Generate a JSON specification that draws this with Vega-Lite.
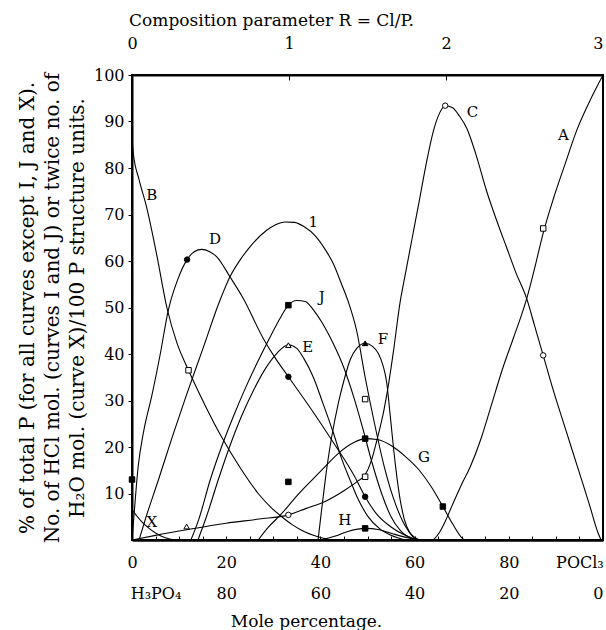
{
  "$schema": "https://vega.github.io/schema/vega-lite/v6.json",
  "width": 471,
  "height": 465,
  "autosize": {"type": "none"},
  "padding": {"left": 132, "top": 75, "right": 3, "bottom": 90},
  "background": "white",
  "config": {
    "font": "DejaVu Serif",
    "view": {"stroke": "black", "strokeWidth": 2},
    "axis": {
      "domainColor": "black", "domainWidth": 2, "tickColor": "black", "tickWidth": 1,
      "labelColor": "black", "titleColor": "black",
      "labelFont": "DejaVu Serif", "titleFont": "DejaVu Serif",
      "labelFontSize": 16, "titleFontSize": 17, "titleFontWeight": "normal",
      "grid": false, "labelFlush": false, "labelOverlap": false, "labelBound": false
    }
  },
  "datasets": {
    "curves": [
      {"series": "A", "x": 64, "y": 0}, {"series": "A", "x": 65.2, "y": 1.5}, {"series": "A", "x": 66.5, "y": 4}, {"series": "A", "x": 68, "y": 7.5}, {"series": "A", "x": 70, "y": 12}, {"series": "A", "x": 71.8, "y": 15.7}, {"series": "A", "x": 74, "y": 21.5}, {"series": "A", "x": 76, "y": 28}, {"series": "A", "x": 78.8, "y": 37.2}, {"series": "A", "x": 81, "y": 43.5}, {"series": "A", "x": 83.8, "y": 51.9}, {"series": "A", "x": 85.5, "y": 58.5}, {"series": "A", "x": 87.3, "y": 66}, {"series": "A", "x": 89.5, "y": 73.5}, {"series": "A", "x": 92, "y": 81}, {"series": "A", "x": 94.5, "y": 88.3}, {"series": "A", "x": 97, "y": 94}, {"series": "A", "x": 100, "y": 100},
      {"series": "B", "x": 0, "y": 86}, {"series": "B", "x": 0.3, "y": 83}, {"series": "B", "x": 1.5, "y": 77.5}, {"series": "B", "x": 3.1, "y": 71.6}, {"series": "B", "x": 5.2, "y": 61.6}, {"series": "B", "x": 7.4, "y": 50}, {"series": "B", "x": 9.5, "y": 42.5}, {"series": "B", "x": 12, "y": 36.5}, {"series": "B", "x": 15.5, "y": 29}, {"series": "B", "x": 19, "y": 22.2}, {"series": "B", "x": 22.8, "y": 15.8}, {"series": "B", "x": 26.8, "y": 10}, {"series": "B", "x": 29.5, "y": 7}, {"series": "B", "x": 31.8, "y": 5}, {"series": "B", "x": 34, "y": 3.3}, {"series": "B", "x": 36, "y": 2.1}, {"series": "B", "x": 38.5, "y": 1}, {"series": "B", "x": 41, "y": 0.3}, {"series": "B", "x": 42, "y": 0},
      {"series": "C", "x": 0, "y": 0}, {"series": "C", "x": 5, "y": 1}, {"series": "C", "x": 11.6, "y": 2.2}, {"series": "C", "x": 20, "y": 3.6}, {"series": "C", "x": 27, "y": 4.5}, {"series": "C", "x": 33.2, "y": 5.4}, {"series": "C", "x": 37, "y": 6.8}, {"series": "C", "x": 41, "y": 8.3}, {"series": "C", "x": 45, "y": 10.6}, {"series": "C", "x": 48, "y": 12.7}, {"series": "C", "x": 49.5, "y": 14}, {"series": "C", "x": 50.8, "y": 17}, {"series": "C", "x": 52, "y": 21.5}, {"series": "C", "x": 53.5, "y": 28}, {"series": "C", "x": 54.5, "y": 33.7}, {"series": "C", "x": 55.5, "y": 40.5}, {"series": "C", "x": 56.9, "y": 51}, {"series": "C", "x": 58, "y": 57}, {"series": "C", "x": 59.5, "y": 65}, {"series": "C", "x": 61, "y": 73}, {"series": "C", "x": 62.6, "y": 81.6}, {"series": "C", "x": 64, "y": 88}, {"series": "C", "x": 65.3, "y": 91.8}, {"series": "C", "x": 66.5, "y": 93.4}, {"series": "C", "x": 68, "y": 93}, {"series": "C", "x": 69.5, "y": 91.2}, {"series": "C", "x": 71.1, "y": 88.5}, {"series": "C", "x": 73, "y": 83}, {"series": "C", "x": 75.3, "y": 75}, {"series": "C", "x": 77.5, "y": 68.5}, {"series": "C", "x": 79.5, "y": 63}, {"series": "C", "x": 81.5, "y": 57.5}, {"series": "C", "x": 83.8, "y": 51.9}, {"series": "C", "x": 85.5, "y": 46}, {"series": "C", "x": 87.3, "y": 39.7}, {"series": "C", "x": 89.5, "y": 32}, {"series": "C", "x": 92, "y": 24}, {"series": "C", "x": 94.5, "y": 16}, {"series": "C", "x": 97, "y": 8}, {"series": "C", "x": 99, "y": 1.4}, {"series": "C", "x": 99.6, "y": 0},
      {"series": "D", "x": 0, "y": 0}, {"series": "D", "x": 0.4, "y": 5}, {"series": "D", "x": 1.3, "y": 15.7}, {"series": "D", "x": 2.5, "y": 23.5}, {"series": "D", "x": 4.2, "y": 31}, {"series": "D", "x": 6, "y": 40}, {"series": "D", "x": 7.7, "y": 49.4}, {"series": "D", "x": 9.7, "y": 56}, {"series": "D", "x": 11.7, "y": 60.3}, {"series": "D", "x": 13.2, "y": 62}, {"series": "D", "x": 14.8, "y": 62.5}, {"series": "D", "x": 16.5, "y": 62}, {"series": "D", "x": 18, "y": 60.9}, {"series": "D", "x": 20.8, "y": 56.6}, {"series": "D", "x": 23.6, "y": 52}, {"series": "D", "x": 27.9, "y": 43.3}, {"series": "D", "x": 30.5, "y": 39}, {"series": "D", "x": 33.2, "y": 35.1}, {"series": "D", "x": 38.2, "y": 27.9}, {"series": "D", "x": 42.4, "y": 21.5}, {"series": "D", "x": 47.3, "y": 13.6}, {"series": "D", "x": 49.5, "y": 9.3}, {"series": "D", "x": 52, "y": 5.5}, {"series": "D", "x": 55, "y": 2.8}, {"series": "D", "x": 58, "y": 1}, {"series": "D", "x": 60.5, "y": 0},
      {"series": "E", "x": 14, "y": 0}, {"series": "E", "x": 15.8, "y": 5}, {"series": "E", "x": 18.3, "y": 12.9}, {"series": "E", "x": 20.7, "y": 20}, {"series": "E", "x": 23.2, "y": 26.5}, {"series": "E", "x": 25.7, "y": 32}, {"series": "E", "x": 28.3, "y": 36.8}, {"series": "E", "x": 30.8, "y": 40.2}, {"series": "E", "x": 33.2, "y": 42}, {"series": "E", "x": 35, "y": 41.2}, {"series": "E", "x": 36.5, "y": 39}, {"series": "E", "x": 38.5, "y": 35}, {"series": "E", "x": 40.5, "y": 29.5}, {"series": "E", "x": 42.8, "y": 22.9}, {"series": "E", "x": 44.5, "y": 17.5}, {"series": "E", "x": 46.3, "y": 12.9}, {"series": "E", "x": 48, "y": 8.8}, {"series": "E", "x": 50, "y": 5.2}, {"series": "E", "x": 52.5, "y": 2.5}, {"series": "E", "x": 55, "y": 1}, {"series": "E", "x": 58, "y": 0},
      {"series": "F", "x": 39.5, "y": 0}, {"series": "F", "x": 40.2, "y": 6}, {"series": "F", "x": 40.8, "y": 11}, {"series": "F", "x": 41.3, "y": 15}, {"series": "F", "x": 42.4, "y": 22.2}, {"series": "F", "x": 43.8, "y": 29.4}, {"series": "F", "x": 45, "y": 34.3}, {"series": "F", "x": 46.3, "y": 38.7}, {"series": "F", "x": 47.8, "y": 41.3}, {"series": "F", "x": 49.5, "y": 42.3}, {"series": "F", "x": 51, "y": 41.7}, {"series": "F", "x": 52.3, "y": 40.1}, {"series": "F", "x": 53.3, "y": 37.5}, {"series": "F", "x": 54.1, "y": 33.7}, {"series": "F", "x": 54.7, "y": 28}, {"series": "F", "x": 55.3, "y": 22}, {"series": "F", "x": 56, "y": 15.5}, {"series": "F", "x": 56.8, "y": 9.5}, {"series": "F", "x": 57.8, "y": 4.5}, {"series": "F", "x": 59, "y": 1.5}, {"series": "F", "x": 60.5, "y": 0},
      {"series": "G", "x": 26.8, "y": 0}, {"series": "G", "x": 29, "y": 2.8}, {"series": "G", "x": 31.8, "y": 5.7}, {"series": "G", "x": 35, "y": 9.5}, {"series": "G", "x": 38.2, "y": 12.9}, {"series": "G", "x": 41, "y": 15.8}, {"series": "G", "x": 44, "y": 18.8}, {"series": "G", "x": 47, "y": 20.9}, {"series": "G", "x": 49.5, "y": 21.8}, {"series": "G", "x": 52, "y": 21.6}, {"series": "G", "x": 55.5, "y": 20}, {"series": "G", "x": 58, "y": 18}, {"series": "G", "x": 61, "y": 15}, {"series": "G", "x": 63.5, "y": 11.5}, {"series": "G", "x": 66, "y": 7.2}, {"series": "G", "x": 68, "y": 3.6}, {"series": "G", "x": 70, "y": 0.5}, {"series": "G", "x": 70.5, "y": 0},
      {"series": "H", "x": 40, "y": 0}, {"series": "H", "x": 43, "y": 0.8}, {"series": "H", "x": 46, "y": 1.9}, {"series": "H", "x": 49.5, "y": 2.5}, {"series": "H", "x": 52.5, "y": 2.2}, {"series": "H", "x": 55.5, "y": 1.3}, {"series": "H", "x": 58.5, "y": 0.5}, {"series": "H", "x": 61, "y": 0},
      {"series": "I", "x": 1.5, "y": 0}, {"series": "I", "x": 3, "y": 5}, {"series": "I", "x": 5.6, "y": 12.9}, {"series": "I", "x": 8.5, "y": 22}, {"series": "I", "x": 11.5, "y": 31}, {"series": "I", "x": 15, "y": 41}, {"series": "I", "x": 18.7, "y": 51.6}, {"series": "I", "x": 20.8, "y": 56.6}, {"series": "I", "x": 23, "y": 60.3}, {"series": "I", "x": 25, "y": 63}, {"series": "I", "x": 28.6, "y": 66.6}, {"series": "I", "x": 30.5, "y": 67.8}, {"series": "I", "x": 32.5, "y": 68.4}, {"series": "I", "x": 34.5, "y": 68.3}, {"series": "I", "x": 36.5, "y": 67.4}, {"series": "I", "x": 39, "y": 65.3}, {"series": "I", "x": 41, "y": 62.5}, {"series": "I", "x": 42.7, "y": 59.5}, {"series": "I", "x": 44.5, "y": 55}, {"series": "I", "x": 46, "y": 51}, {"series": "I", "x": 47.7, "y": 45}, {"series": "I", "x": 49.5, "y": 35}, {"series": "I", "x": 51.5, "y": 25}, {"series": "I", "x": 53.5, "y": 16}, {"series": "I", "x": 55.5, "y": 9}, {"series": "I", "x": 57.5, "y": 4}, {"series": "I", "x": 59.5, "y": 1}, {"series": "I", "x": 61, "y": 0},
      {"series": "J", "x": 12.5, "y": 0}, {"series": "J", "x": 14.2, "y": 4.5}, {"series": "J", "x": 16.6, "y": 12.9}, {"series": "J", "x": 19, "y": 20}, {"series": "J", "x": 21.5, "y": 26.5}, {"series": "J", "x": 24, "y": 32.5}, {"series": "J", "x": 27, "y": 39}, {"series": "J", "x": 29.5, "y": 44}, {"series": "J", "x": 31.5, "y": 47.8}, {"series": "J", "x": 33.2, "y": 50.5}, {"series": "J", "x": 35, "y": 51.5}, {"series": "J", "x": 36.8, "y": 51.3}, {"series": "J", "x": 38.5, "y": 49.5}, {"series": "J", "x": 40.5, "y": 46.5}, {"series": "J", "x": 42.7, "y": 42.3}, {"series": "J", "x": 45, "y": 37}, {"series": "J", "x": 47, "y": 31}, {"series": "J", "x": 49, "y": 24}, {"series": "J", "x": 51, "y": 16.5}, {"series": "J", "x": 53, "y": 10}, {"series": "J", "x": 55, "y": 5}, {"series": "J", "x": 57, "y": 2}, {"series": "J", "x": 59.5, "y": 0.3}, {"series": "J", "x": 60.5, "y": 0},
      {"series": "X", "x": 0, "y": 6.5}, {"series": "X", "x": 1, "y": 5.2}, {"series": "X", "x": 2, "y": 4}, {"series": "X", "x": 3.5, "y": 2.6}, {"series": "X", "x": 5, "y": 1.5}, {"series": "X", "x": 6.5, "y": 0.7}, {"series": "X", "x": 8, "y": 0.2}, {"series": "X", "x": 9.5, "y": 0}
    ],
    "markers": [
      {"series": "D", "marker": "filled circle", "x": 11.7, "y": 60.3},
      {"series": "B", "marker": "open square", "x": 12, "y": 36.5},
      {"series": "E", "marker": "open triangle", "x": 11.6, "y": 2.9},
      {"series": "J", "marker": "filled square", "x": 33.2, "y": 50.5},
      {"series": "E", "marker": "open triangle", "x": 33.2, "y": 41.9},
      {"series": "D", "marker": "filled circle", "x": 33.2, "y": 35.1},
      {"series": "G", "marker": "filled square", "x": 33.2, "y": 12.5},
      {"series": "C", "marker": "open circle", "x": 33.2, "y": 5.4},
      {"series": "F", "marker": "filled triangle", "x": 49.5, "y": 42.3},
      {"series": "I", "marker": "open square", "x": 49.5, "y": 30.3},
      {"series": "G", "marker": "filled square", "x": 49.5, "y": 21.8},
      {"series": "C", "marker": "open square", "x": 49.5, "y": 13.6},
      {"series": "D", "marker": "filled circle", "x": 49.5, "y": 9.3},
      {"series": "H", "marker": "filled square", "x": 49.5, "y": 2.5},
      {"series": "C", "marker": "open circle", "x": 66.5, "y": 93.4},
      {"series": "G", "marker": "filled square", "x": 66, "y": 7.2},
      {"series": "A", "marker": "open square", "x": 87.3, "y": 67},
      {"series": "C", "marker": "open circle", "x": 87.3, "y": 39.7},
      {"series": "X", "marker": "filled square", "x": 0, "y": 13}
    ],
    "labels": [
      {"label": "A", "x": 91.6, "y": 87},
      {"label": "B", "x": 4.2, "y": 74.1},
      {"label": "C", "x": 72.3, "y": 92},
      {"label": "D", "x": 17.6, "y": 64.8},
      {"label": "E", "x": 37.3, "y": 41.5},
      {"label": "F", "x": 53.3, "y": 43.3},
      {"label": "G", "x": 62, "y": 17.9},
      {"label": "H", "x": 45.2, "y": 4.3},
      {"label": "J", "x": 40.3, "y": 52.3},
      {"label": "1", "x": 38.5, "y": 68.4},
      {"label": "X", "x": 4.2, "y": 3.9}
    ]
  },
  "layer": [
    {
      "data": {"name": "curves"},
      "mark": {"type": "line", "interpolate": "monotone", "color": "black", "strokeWidth": 1.1},
      "encoding": {
        "x": {"field": "x", "type": "quantitative", "scale": {"domain": [0, 100], "nice": false, "zero": false},
          "axis": {"orient": "bottom", "values": [0, 5, 10, 15, 20, 25, 30, 35, 40, 45, 50, 55, 60, 65, 70, 75, 80, 85, 90, 95, 100],
            "labelExpr": "datum.value == 0 ? ['0', ''] : datum.value == 5 ? ['', 'H₃PO₄'] : datum.value == 95 ? ['POCl₃', ''] : datum.value == 100 ? ['', '0'] : datum.value % 20 == 0 ? [datum.label, '' + (100 - datum.value)] : ''",
            "labelAlign": {"condition": {"test": "datum.value == 100", "value": "right"}, "value": "center"},
            "tickSize": -4, "labelPadding": 18, "labelLineHeight": 31, "labelBaseline": "top",
            "title": "Mole percentage.", "titlePadding": 12, "titleFontSize": 17, "titleX": 174, "titleAlign": "center", "domainWidth": 2.5}},
        "y": {"field": "y", "type": "quantitative", "scale": {"domain": [0, 100], "nice": false, "zero": false},
          "axis": {"values": [10, 20, 30, 40, 50, 60, 70, 80, 90, 100], "tickSize": 4, "labelPadding": 4,
            "title": ["% of total P (for all curves except I, J and X).", "No. of HCl mol. (curves I and J) or twice no. of", "H₂O mol. (curve X)/100 P structure units."],
            "titleFontSize": 20, "titleLineHeight": 25, "titlePadding": 6}},
        "detail": {"field": "series", "type": "nominal"}
      }
    },
    {
      "data": {"name": "markers"},
      "mark": {"type": "point", "filled": true, "stroke": "black", "strokeWidth": 1, "size": 30, "opacity": 1},
      "encoding": {
        "x": {"field": "x", "type": "quantitative", "axis": null},
        "y": {"field": "y", "type": "quantitative", "axis": null},
        "shape": {"field": "marker", "type": "nominal", "legend": null,
          "scale": {"domain": ["filled circle", "open circle", "filled square", "open square", "filled triangle", "open triangle"],
            "range": ["circle", "circle", "square", "square", "triangle-up", "triangle-up"]}},
        "fill": {"field": "marker", "type": "nominal", "legend": null,
          "scale": {"domain": ["filled circle", "open circle", "filled square", "open square", "filled triangle", "open triangle"],
            "range": ["black", "white", "black", "white", "black", "white"]}}
      }
    },
    {
      "data": {"name": "labels"},
      "mark": {"type": "text", "font": "DejaVu Serif", "fontSize": 15, "color": "black", "align": "center", "baseline": "middle"},
      "encoding": {
        "x": {"field": "x", "type": "quantitative",
          "axis": {"orient": "top", "values": [0, 33.3333, 66.6667, 100], "labelExpr": "'' + round(datum.value * 3 / 100)",
            "labelAlign": {"condition": {"test": "datum.value == 100", "value": "right"}, "value": "center"},
            "tickSize": -5, "labelPadding": 29, "title": "Composition parameter R = Cl/P.", "titlePadding": 6, "titleFontSize": 17, "titleX": 139, "titleAlign": "center"}},
        "y": {"field": "y", "type": "quantitative", "axis": null},
        "text": {"field": "label", "type": "nominal"},
        "fontWeight": {"condition": {"test": "datum.label == '1'", "value": "bold"}, "value": "normal"}
      }
    }
  ],
  "resolve": {"axis": {"x": "independent", "y": "independent"}}
}
